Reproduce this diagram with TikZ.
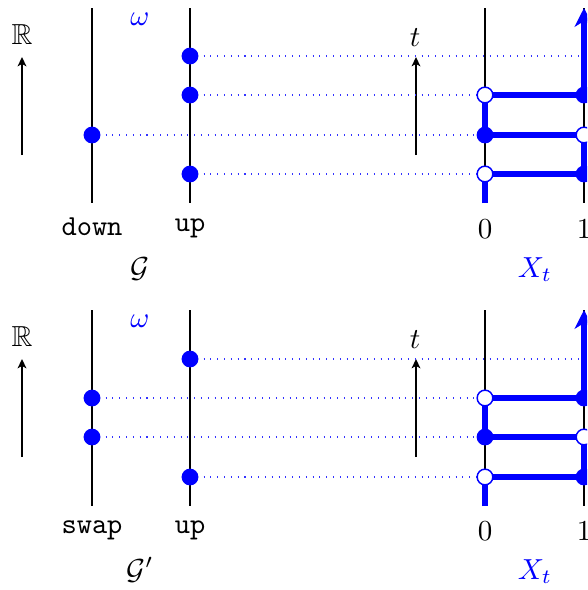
\documentclass[tikz,border=0pt]{standalone}
\usepackage{amssymb}
\usetikzlibrary{arrows.meta}
\begin{document}
\begin{tikzpicture}[x=0.345pt,y=-0.345pt,
  axis/.style={line width=0.75pt},
  guide/.style={blue!80, line width=0.35pt, dotted},
  walk/.style={blue, line width=2.1pt},
  fdot/.style={circle, fill=blue, inner sep=0pt, minimum size=5.8pt},
  odot/.style={circle, draw=blue, fill=white, line width=0.5pt, inner sep=0pt, minimum size=5.4pt},
  lbl/.style={anchor=base, inner sep=0pt},
  raxis/.style={line width=0.75pt, -{Stealth[length=3.2pt,width=3pt,inset=0.8pt]}}]
\clip (0,0) rectangle (587,590);

% ---------------- top panel ----------------
\begin{scope}
\node[lbl] (R) at (22,44) {$\mathbb{R}$};
\coordinate (Ra) at (22,155); \coordinate (Rb) at (22,57);
\draw[raxis] (Ra) -- (Rb);
\node[lbl] (tt) at (415,46) {$t$};
\coordinate (ta) at (416,155); \coordinate (tb) at (416,57);
\draw[raxis] (ta) -- (tb);
\node[lbl, blue] (om) at (140,25) {$\omega$};

\coordinate (g1t) at (92,8);  \coordinate (g1b) at (92,203);
\coordinate (g2t) at (190,8); \coordinate (g2b) at (190,203);
\coordinate (c0t) at (485,8); \coordinate (c0b) at (485,203);
\coordinate (c1t) at (584,8); \coordinate (c1b) at (584,203);
\draw[axis] (g1t) -- (g1b);
\draw[axis] (g2t) -- (g2b);
\draw[axis] (c0t) -- (c0b);
\draw[axis] (c1t) -- (c1b);

\coordinate (ua) at (190,56); \coordinate (ub) at (190,95);
\coordinate (uc) at (190,174); \coordinate (da) at (92,135);
\coordinate (ea) at (584,56);
\coordinate (p0a) at (485,95); \coordinate (p0b) at (485,135); \coordinate (p0c) at (485,174);
\coordinate (p1a) at (584,95); \coordinate (p1b) at (584,135); \coordinate (p1c) at (584,174);

\draw[guide] (ua) -- (ea);
\draw[guide] (ub) -- (p1a);
\draw[guide] (da) -- (p1b);
\draw[guide] (uc) -- (p1c);

\draw[walk, -{Stealth[length=6.5pt,width=6.5pt,inset=2pt]}]
  (c0b) -- (p0c) -- (p1c) -- (p1b) -- (p0b) -- (p0a) -- (p1a) -- (c1t);

\node[fdot] (UA) at (ua) {};
\node[fdot] (UB) at (ub) {};
\node[fdot] (UC) at (uc) {};
\node[fdot] (DA) at (da) {};
\node[odot] (P0A) at (p0a) {};
\node[fdot] (P0B) at (p0b) {};
\node[odot] (P0C) at (p0c) {};
\node[fdot] (P1A) at (p1a) {};
\node[odot] (P1B) at (p1b) {};
\node[fdot] (P1C) at (p1c) {};

\node[lbl] (ldown) at (92,235) {\texttt{down}};
\node[lbl] (lup) at (190,231) {\texttt{up}};
\node[lbl] (l0) at (485,238) {$0$};
\node[lbl] (l1) at (584,238) {$1$};
\node[lbl] (lG) at (140,277) {$\mathcal{G}$};
\node[lbl, blue] (lX) at (535,277) {$X_t$};
\end{scope}

% ---------------- bottom panel ----------------
\begin{scope}[shift={(0,302)}]
\node[lbl] (Rp) at (22,44) {$\mathbb{R}$};
\coordinate (Rap) at (22,155); \coordinate (Rbp) at (22,57);
\draw[raxis] (Rap) -- (Rbp);
\node[lbl] (ttp) at (415,46) {$t$};
\coordinate (tap) at (416,155); \coordinate (tbp) at (416,57);
\draw[raxis] (tap) -- (tbp);
\node[lbl, blue] (omp) at (140,25) {$\omega$};

\coordinate (h1t) at (92,8);  \coordinate (h1b) at (92,204);
\coordinate (h2t) at (190,8); \coordinate (h2b) at (190,204);
\coordinate (k0t) at (485,8); \coordinate (k0b) at (485,204);
\coordinate (k1t) at (584,8); \coordinate (k1b) at (584,204);
\draw[axis] (h1t) -- (h1b);
\draw[axis] (h2t) -- (h2b);
\draw[axis] (k0t) -- (k0b);
\draw[axis] (k1t) -- (k1b);

\coordinate (va) at (190,57); \coordinate (vc) at (190,175);
\coordinate (sa) at (92,96); \coordinate (sb) at (92,135);
\coordinate (fa) at (584,57);
\coordinate (q0a) at (485,96); \coordinate (q0b) at (485,135); \coordinate (q0c) at (485,175);
\coordinate (q1a) at (584,96); \coordinate (q1b) at (584,135); \coordinate (q1c) at (584,175);

\draw[guide] (va) -- (fa);
\draw[guide] (sa) -- (q1a);
\draw[guide] (sb) -- (q1b);
\draw[guide] (vc) -- (q1c);

\draw[walk, -{Stealth[length=6.5pt,width=6.5pt,inset=2pt]}]
  (k0b) -- (q0c) -- (q1c) -- (q1b) -- (q0b) -- (q0a) -- (q1a) -- (k1t);

\node[fdot] (VA) at (va) {};
\node[fdot] (VC) at (vc) {};
\node[fdot] (SA) at (sa) {};
\node[fdot] (SB) at (sb) {};
\node[odot] (Q0A) at (q0a) {};
\node[fdot] (Q0B) at (q0b) {};
\node[odot] (Q0C) at (q0c) {};
\node[fdot] (Q1A) at (q1a) {};
\node[odot] (Q1B) at (q1b) {};
\node[fdot] (Q1C) at (q1c) {};

\node[lbl] (lswap) at (92,231) {\texttt{swap}};
\node[lbl] (lupp) at (190,231) {\texttt{up}};
\node[lbl] (l0p) at (485,238) {$0$};
\node[lbl] (l1p) at (584,238) {$1$};
\node[lbl] (lGp) at (140,277) {$\mathcal{G}'$};
\node[lbl, blue] (lXp) at (535,277) {$X_t$};
\end{scope}
\end{tikzpicture}
\end{document}
